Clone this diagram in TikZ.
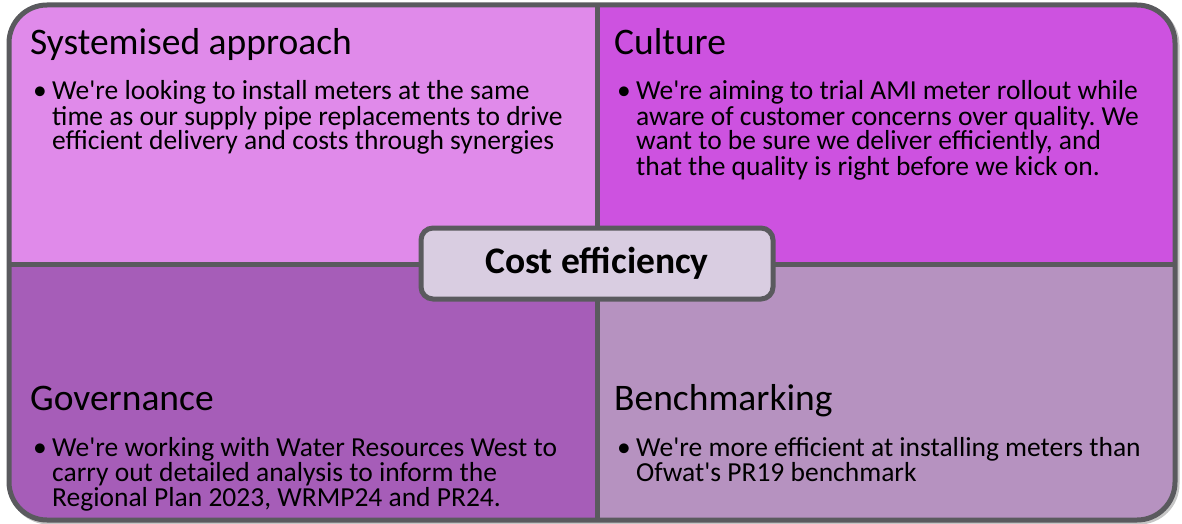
\documentclass[tikz,border=0pt]{standalone}
\usepackage{fontspec}
\setmainfont{Carlito}[Ligatures=TeXOff]
\frenchspacing

\definecolor{approachFill}{HTML}{E08AEA}
\definecolor{cultureFill}{HTML}{CD52E0}
\definecolor{governFill}{HTML}{A65DB8}
\definecolor{benchFill}{HTML}{B692C0}
\definecolor{hubFill}{HTML}{D9CDE1}
\definecolor{frameGray}{HTML}{5A5A5E}

\newcommand{\bulletlines}[1]{\makebox[19pt][l]{\textbullet}%
    \setbox\strutbox\hbox{\vrule height 19.5pt depth 5.5pt width 0pt}%
    \begin{tabular}[t]{@{}l@{}}#1\end{tabular}}

\tikzset{
  frameline/.style={draw=frameGray, line width=5pt},
  headtext/.style={anchor=base west, inner sep=0pt, font=\fontsize{37.5}{40}\selectfont},
  bodytext/.style={anchor=base west, inner sep=0pt, font=\fontsize{27.5}{25}\selectfont},
  hubbox/.style={draw=frameGray, fill=hubFill, line width=5pt, rounded corners=12pt,
    minimum width=352pt, minimum height=71pt, inner sep=0pt,
    font=\fontsize{37.5}{40}\selectfont\bfseries}
}

\begin{document}
\begin{tikzpicture}[x=1pt, y=-1pt]
    \useasboundingbox (0,0) rectangle (1182,524);

    % shadow under the frame
    \draw[gray!45, line width=5pt, rounded corners=38pt] (11,7) rectangle (1177,522);

    % the four panels
    \begin{scope}
        \clip[rounded corners=38pt] (9,5) rectangle (1175,520);
        \fill[approachFill] (9,5) rectangle (597,264);
        \fill[cultureFill] (597,5) rectangle (1175,264);
        \fill[governFill] (9,264) rectangle (597,520);
        \fill[benchFill] (597,264) rectangle (1175,520);
    \end{scope}
    \draw[frameline] (597,5) -- (597,520);
    \draw[frameline] (9,264) -- (1175,264);
    \draw[frameline, rounded corners=38pt] (9,5) rectangle (1175,520);

    \node[headtext] (approach) at (30,55) {Systemised approach};
    \node[bodytext] (approachtxt) at (33,100) {\bulletlines{We're looking to install meters at the same\\
        time as our supply pipe replacements to drive\\
        efficient delivery and costs through synergies}};

    \node[headtext] (culture) at (614,55) {Culture};
    \node[bodytext] (culturetxt) at (617,100) {\bulletlines{We're aiming to trial AMI meter rollout while\\
        aware of customer concerns over quality. We\\
        want to be sure we deliver efficiently, and\\
        that the quality is right before we kick on.}};

    \node[headtext] (govern) at (30,410) {Governance};
    \node[bodytext] (governtxt) at (33,456) {\bulletlines{We're working with Water Resources West to\\
        carry out detailed analysis to inform the\\
        Regional Plan 2023, WRMP24 and PR24.}};

    \node[headtext] (bench) at (614,410) {Benchmarking};
    \node[bodytext] (benchtxt) at (617,456) {\bulletlines{We're more efficient at installing meters than\\
        Ofwat's PR19 benchmark}};

    \node[hubbox] (hub) at (597,263.5) {Cost efficiency};
\end{tikzpicture}
\end{document}
